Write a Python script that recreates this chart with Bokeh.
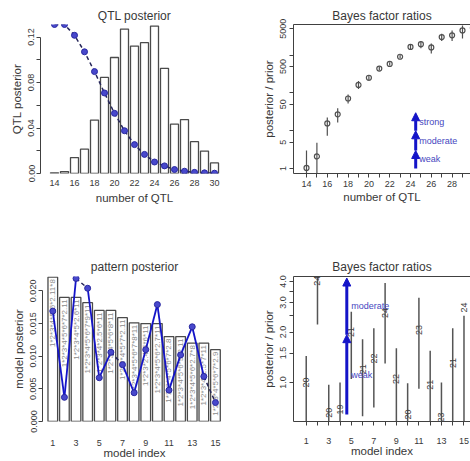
import math
from bokeh.plotting import figure
from bokeh.layouts import column, row
from bokeh.models import (ColumnDataSource, FixedTicker, LinearAxis, Range1d,
                          Arrow, NormalHead, Title)
from bokeh.core.properties import value
from bokeh.embed import file_html
from bokeh.resources import INLINE

FONT = "Liberation Sans"
TXT = "#383838"
AXC = "#404040"
BAR_LINE = "#4a4a4a"
BLUE = "#1414c8"
BLUE_TXT = "#4646c0"
PT_FILL = "#4848cc"
PT_LINE = "#2828a0"

# ---------------- data: QTL posterior (top left) ----------------
qtl_n = [14, 15, 16, 17, 18, 19, 20, 21, 22, 23, 24, 25, 26, 27, 28, 29, 30]
qtl_post = [0.0006, 0.0017, 0.0140, 0.0214, 0.0470, 0.0845, 0.1020, 0.1270,
            0.1120, 0.1150, 0.1296, 0.0925, 0.0434, 0.0474, 0.0280, 0.0197, 0.0093]
qtl_prior = [0.1310, 0.1310, 0.1215, 0.1070, 0.0896, 0.0708, 0.0529, 0.0376,
             0.0254, 0.0168, 0.0101, 0.0067, 0.0035, 0.0020, 0.0010, 0.0006, 0.0003]
qtl_x_ticks = [14, 16, 18, 20, 22, 24, 26, 28, 30]
qtl_y_ticks = [0.0, 0.02, 0.04, 0.06, 0.08, 0.10, 0.12]
qtl_y_labels = ["0.00", "", "0.04", "", "0.08", "", "0.12"]

# ---------------- data: Bayes factor ratios by number of QTL (top right) ----------------
bf_n = [14, 15, 16, 17, 18, 19, 20, 21, 22, 23, 24, 25, 26, 27, 28, 29, 30]
bf_ratio = [1.04, 2.1, 15.6, 27.3, 71.5, 163, 253, 441, 587, 910, 1657,
            1950, 1600, 3020, 3350, 4520, 5300]
bf_lo = [0.3, 0.3, 7.4, 16.6, 53, 128, 210, 393, 530, 820, 1450,
         1530, 1110, 2380, 2380, 2750, 3000]
bf_hi = [3.0, 4.8, 22.4, 39.2, 91, 207, 300, 495, 650, 1010, 1900,
         2380, 2030, 3710, 4520, 6110, 7000]
bf_x_ticks = list(range(14, 31))
bf_x_labels = [str(v) if v % 2 == 0 else "" for v in bf_x_ticks]
bf_y_ticks = [1, 5, 10, 50, 100, 500, 1000, 5000]
bf_y_labels = ["1", "5", "", "50", "", "500", "", "5000"]
strength_labels = ["weak", "moderate", "strong"]
strength_lo = [1, 3, 10]
strength_hi = [3, 10, 30]
strength_x = 24.5
strength_text_x = 24.85
strength_text_y = [1.75, 5.5, 17.5]

# ---------------- data: pattern posterior (bottom left) ----------------
model_idx = [1, 2, 3, 4, 5, 6, 7, 8, 9, 10, 11, 12, 13, 14, 15]
pattern_post = [0.0221, 0.0190, 0.0190, 0.0182, 0.0170, 0.0170, 0.0159, 0.0151,
                0.0150, 0.0150, 0.0130, 0.0130, 0.0120, 0.0120, 0.0110]
pattern_prior = [0.0169, 0.0037, 0.0219, 0.0204, 0.0067, 0.0106, 0.0087, 0.0044,
                 0.0110, 0.0179, 0.0048, 0.0102, 0.0145, 0.0069, 0.0029]
pattern_names = ["1*2*3*4*5*6*2.11*8", "1*2*3*4*5*6*7*2.11", "1*2*3*4*5*2.6*11",
                 "1*2*3*4*5*6*7*9*11", "1*2*3*4*2.5*6*11", "1*2*3*4*5*6*8*11",
                 "1*2*3*4*5*7*2.11", "1*2*3*4*5*6*7*8*11", "1*2*3*2.4*5*6*11",
                 "1*2*3*4*5*6*2.7*11", "1*2*3*4*5*6*7*2.8", "1*2*3*4*5*6*9*2.11",
                 "1*2*3*4*5*6*2.7*8", "1*2*3*4*2.5*7*11", "1*2*3*4*5*6*7*2.9"]
pattern_x_ticks = [1, 3, 5, 7, 9, 11, 13, 15]
pattern_y_ticks = [0.0, 0.005, 0.010, 0.015, 0.020]
pattern_y_labels = ["0.000", "0.005", "0.010", "0.015", "0.020"]
prior_dashed_from = [3, 6, 14]

# ---------------- data: Bayes factor ratios by model (bottom right) ----------------
model_bf = [1.0, 4.05, 0.66, 0.69, 2.0, 1.2, 1.39, 2.6, 1.05, 0.645, 2.06, 0.97, 0.62, 1.31, 2.8]
model_bf_lo = [0.3, 2.22, 0.3, 0.3, 1.05, 0.63, 0.71, 1.30, 0.3, 0.3, 0.92, 0.3, 0.3, 0.3, 0.3]
model_bf_hi = [1.44, 5.0, 0.97, 1.0, 2.64, 1.81, 2.11, 3.93, 1.60, 0.99, 3.2, 1.55, 1.0, 2.11, 2.5]
model_nqtl = ["20", "24", "20", "19", "21", "21", "22", "24", "22", "20", "23", "21", "23", "21", "24"]
model_x_ticks = list(range(1, 16))
model_x_labels = [str(v) if v % 2 == 1 else "" for v in model_x_ticks]
model_y_ticks = [1.0, 1.5, 2.0, 2.5, 3.0, 3.5, 4.0]
model_y_labels = ["1.0", "1.5", "2.0", "", "3.0", "", "4.0"]
mstrength_labels = ["weak", "moderate"]
mstrength_lo = [0.645, 1.93]
mstrength_hi = [1.93, 4.2]
mstrength_x = 4.6
mstrength_text_x = 5.0
mstrength_text_y = [1.11, 2.86]


def make_fig(w, h, xr, yr, ytype, ml, mr, mt, mb):
    p = figure(width=w, height=h, x_range=Range1d(*xr), y_range=Range1d(*yr),
               y_axis_type=ytype, output_backend="svg", toolbar_location=None,
               title=None, min_border_left=ml, min_border_right=mr,
               min_border_top=mt, min_border_bottom=mb)
    p.grid.visible = False
    p.outline_line_color = None
    p.background_fill_color = "white"
    p.border_fill_color = "white"
    return p


def style_axis(ax, label):
    ax.axis_label = label
    ax.major_label_text_font = FONT
    ax.major_label_text_font_size = "9px"
    ax.major_label_text_color = TXT
    ax.axis_label_text_font = FONT
    ax.axis_label_text_font_size = "11.5px"
    ax.axis_label_text_font_style = "normal"
    ax.axis_label_text_color = TXT
    ax.axis_line_color = AXC
    ax.major_tick_line_color = AXC
    ax.minor_tick_line_color = None
    ax.major_tick_in = 0
    ax.major_tick_out = 4


def add_title(p, text, standoff, offset=0):
    p.add_layout(Title(text=text, align="center", text_font=FONT, text_font_size="12px",
                       text_font_style="normal", text_color=TXT, standoff=standoff,
                       offset=offset), "above")


def add_top_border(p):
    ax = LinearAxis(ticker=FixedTicker(ticks=[]), major_label_text_font_size="0px",
                    major_tick_out=0, major_tick_in=0, major_label_standoff=0,
                    axis_line_color=AXC)
    p.add_layout(ax, "above")


# ================= panel 1 =================
p1 = make_fig(235, 230, (12.6, 31.4), (0, 0.131), "linear", 40, 7, 24, 57)
style_axis(p1.xaxis[0], "number of QTL")
style_axis(p1.yaxis[0], "QTL posterior")
p1.xaxis.ticker = FixedTicker(ticks=qtl_x_ticks)
p1.xaxis.axis_line_color = None
p1.xaxis.major_tick_line_color = None
p1.xaxis.major_tick_out = 0
p1.xaxis.major_label_standoff = 6
p1.xaxis.axis_label_standoff = 3
p1.yaxis.ticker = FixedTicker(ticks=qtl_y_ticks)
p1.yaxis.major_label_overrides = dict(zip(qtl_y_ticks, qtl_y_labels))
p1.yaxis.major_label_orientation = "vertical"
p1.yaxis.major_label_standoff = 2
p1.yaxis.axis_label_standoff = 3
p1.yaxis.bounds = (qtl_y_ticks[0], qtl_y_ticks[-1])
p1.vbar(x=qtl_n, top=qtl_post, bottom=0, width=0.8, fill_color="white",
        line_color=BAR_LINE, line_width=1.3)
p1.line(qtl_n, qtl_prior, line_color="#26265a", line_width=1.5, line_dash="4 3")
p1.scatter(qtl_n, qtl_prior, size=6, fill_color=PT_FILL, line_color=PT_LINE)
add_title(p1, "QTL posterior", 4, 2)

# ================= panel 2 =================
p2 = make_fig(235, 230, (12.75, 29.77), (0.74, 6486), "log", 58, 0, 24, 55)
style_axis(p2.xaxis[0], "number of QTL")
style_axis(p2.yaxis[0], "posterior / prior")
p2.xaxis.ticker = FixedTicker(ticks=bf_x_ticks)
p2.xaxis.major_label_overrides = dict(zip(bf_x_ticks, bf_x_labels))
p2.xaxis.major_label_standoff = 3
p2.xaxis.axis_label_standoff = 1
p2.yaxis.ticker = FixedTicker(ticks=bf_y_ticks)
p2.yaxis.major_label_overrides = dict(zip(bf_y_ticks, bf_y_labels))
p2.yaxis.major_label_orientation = "vertical"
p2.yaxis.major_label_standoff = 3
p2.yaxis.axis_label_standoff = 3
add_top_border(p2)
p2.segment(x0=bf_n, y0=bf_lo, x1=bf_n, y1=bf_hi, line_color="#505050", line_width=1.2)
p2.scatter(bf_n, bf_ratio, size=5, fill_alpha=0, line_color="#505050", line_width=1.2)
src2 = ColumnDataSource(dict(x0=[strength_x] * 3, y0=strength_lo,
                             x1=[strength_x] * 3, y1=strength_hi))
p2.add_layout(Arrow(end=NormalHead(size=8, fill_color=BLUE, line_color=BLUE),
                    source=src2, x_start="x0", y_start="y0", x_end="x1", y_end="y1",
                    line_color=BLUE, line_width=3))
p2.text(x=[strength_text_x] * 3, y=strength_text_y, text=strength_labels,
        text_font=value(FONT), text_font_size="9px", text_color=BLUE_TXT,
        text_align="left", text_baseline="middle")
add_title(p2, "Bayes factor ratios", 4, 4)

# ================= panel 3 =================
p3 = make_fig(235, 231, (0.114, 15.95), (0, 0.0222), "linear", 42, 9, 45, 36)
style_axis(p3.xaxis[0], "model index")
style_axis(p3.yaxis[0], "model posterior")
p3.xaxis.ticker = FixedTicker(ticks=pattern_x_ticks)
p3.xaxis.axis_line_color = None
p3.xaxis.major_tick_line_color = None
p3.xaxis.major_tick_out = 0
p3.xaxis.major_label_standoff = 18
p3.xaxis.axis_label_standoff = -2
p3.yaxis.ticker = FixedTicker(ticks=pattern_y_ticks)
p3.yaxis.major_label_overrides = dict(zip(pattern_y_ticks, pattern_y_labels))
p3.yaxis.major_label_orientation = "vertical"
p3.yaxis.major_label_standoff = 2
p3.yaxis.axis_label_standoff = 3
p3.yaxis.bounds = (pattern_y_ticks[0], pattern_y_ticks[-1])
p3.vbar(x=model_idx, top=pattern_post, bottom=0, width=0.83, fill_color="white",
        line_color=BAR_LINE, line_width=1.3)
p3.text(x=model_idx, y=pattern_post, text=pattern_names, angle=math.pi / 2,
        y_offset=2, text_align="right", text_baseline="middle",
        text_font=value(FONT), text_font_size="8px", text_color="#8c8c8c")
solid_i = [i for i in range(len(model_idx) - 1) if model_idx[i] not in prior_dashed_from]
dash_i = [i for i in range(len(model_idx) - 1) if model_idx[i] in prior_dashed_from]
p3.segment(x0=[model_idx[i] for i in solid_i], y0=[pattern_prior[i] for i in solid_i],
           x1=[model_idx[i + 1] for i in solid_i], y1=[pattern_prior[i + 1] for i in solid_i],
           line_color=BLUE, line_width=1.8)
p3.segment(x0=[model_idx[i] for i in dash_i], y0=[pattern_prior[i] for i in dash_i],
           x1=[model_idx[i + 1] for i in dash_i], y1=[pattern_prior[i + 1] for i in dash_i],
           line_color="#26265a", line_width=1.5, line_dash="4 3")
p3.scatter(model_idx, pattern_prior, size=6, fill_color=PT_FILL, line_color=PT_LINE)
add_title(p3, "pattern posterior", 6, 4)

# ================= panel 4 =================
p4 = make_fig(235, 231, (-0.129, 15.578), (0.586, 4.29), "log", 58, 0, 46, 34)
style_axis(p4.xaxis[0], "model index")
style_axis(p4.yaxis[0], "posterior / prior")
p4.xaxis.ticker = FixedTicker(ticks=model_x_ticks)
p4.xaxis.major_label_overrides = dict(zip(model_x_ticks, model_x_labels))
p4.xaxis.major_label_standoff = 12
p4.xaxis.axis_label_standoff = -2
p4.yaxis.ticker = FixedTicker(ticks=model_y_ticks)
p4.yaxis.major_label_overrides = dict(zip(model_y_ticks, model_y_labels))
p4.yaxis.major_label_orientation = "vertical"
p4.yaxis.major_label_standoff = 3
p4.yaxis.axis_label_standoff = 3
add_top_border(p4)
p4.segment(x0=model_idx, y0=model_bf_lo, x1=model_idx, y1=model_bf_hi,
           line_color="#555555", line_width=1.5)
p4.text(x=model_idx, y=model_bf, text=model_nqtl, angle=math.pi / 2,
        text_align="center", text_baseline="middle", text_font=value(FONT),
        text_font_size="9px", text_color="#404040")
src4 = ColumnDataSource(dict(x0=[mstrength_x] * 2, y0=mstrength_lo,
                             x1=[mstrength_x] * 2, y1=mstrength_hi))
p4.add_layout(Arrow(end=NormalHead(size=8, fill_color=BLUE, line_color=BLUE),
                    source=src4, x_start="x0", y_start="y0", x_end="x1", y_end="y1",
                    line_color=BLUE, line_width=3))
p4.text(x=[mstrength_text_x] * 2, y=mstrength_text_y, text=mstrength_labels,
        text_font=value(FONT), text_font_size="9px", text_color=BLUE_TXT,
        text_align="left", text_baseline="middle")
add_title(p4, "Bayes factor ratios", 5, 4)

layout = column(row(p1, p2), row(p3, p4))
open("out.html", "w").write(file_html(layout, INLINE))
